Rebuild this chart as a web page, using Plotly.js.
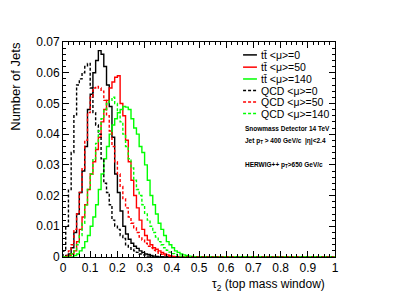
<!DOCTYPE html>
<html><head><meta charset="utf-8">
<script src="https://cdn.plot.ly/plotly-3.0.1.min.js"></script>
<style>html,body{margin:0;padding:0;background:#fff;}#c{width:399px;height:299px;}</style>
</head><body><div id="c"></div>
<script>
// bin width 0.01, bins starting at 0
const binWidth = 0.01;
const nBins = 100;
const ttMu0 = [0,0.0005,0.001,0.003,0.008,0.014,0.021,0.028,0.036,0.048,
  0.053,0.060,0.064,0.0672,0.066,0.062,0.056,0.049,0.039,0.027,
  0.021,0.015,0.010,0.0075,0.0058,0.0045,0.0035,0.0028,0.002,0.0015,
  0.001,0.0008,0.0005,0.0003,0.0002,0,0,0,0,0];
const ttMu50 = [0,0.0002,0.0005,0.001,0.002,0.005,0.009,0.013,0.017,0.022,
  0.027,0.031,0.035,0.039,0.044,0.048,0.051,0.055,0.057,0.0585,
  0.059,0.050,0.046,0.038,0.031,0.025,0.020,0.016,0.012,0.009,
  0.007,0.0055,0.004,0.003,0.0025,0.002,0.0015,0.001,0.0007,0.0004,0.0002];
const ttMu140 = [0,0,0,0,0.0005,0.001,0.002,0.003,0.005,0.007,
  0.010,0.013,0.017,0.022,0.027,0.032,0.036,0.040,0.043,0.045,
  0.047,0.048,0.049,0.0488,0.048,0.045,0.042,0.040,0.036,0.034,
  0.030,0.025,0.020,0.017,0.014,0.011,0.009,0.007,0.005,0.004,
  0.003,0.002,0.0015,0.001,0.0007,0.0005,0.0003,0.0002];
const qcdMu0 = [0.002,0.010,0.022,0.034,0.046,0.056,0.058,0.060,0.062,0.063,
  0.055,0.047,0.043,0.040,0.032,0.024,0.021,0.017,0.012,0.010,
  0.009,0.007,0.006,0.004,0.003,0.0025,0.002,0.0015,0.001,0.0007,
  0.0005,0.0003,0.0002];
const qcdMu50 = [0,0.0005,0.002,0.004,0.009,0.014,0.021,0.029,0.038,0.047,
  0.052,0.055,0.0555,0.055,0.054,0.051,0.046,0.041,0.036,0.031,
  0.027,0.023,0.019,0.016,0.013,0.011,0.0095,0.008,0.0065,0.0055,
  0.0045,0.0035,0.003,0.0022,0.0017,0.0012,0.0009,0.0006,0.0004,0.0002];
const qcdMu140 = [0,0,0.0005,0.001,0.002,0.004,0.007,0.011,0.017,0.022,
  0.027,0.032,0.037,0.041,0.045,0.048,0.050,0.051,0.052,0.050,
  0.047,0.044,0.040,0.036,0.032,0.029,0.025,0.022,0.020,0.017,
  0.014,0.012,0.010,0.008,0.0065,0.005,0.004,0.003,0.0022,0.0016,
  0.0011,0.0008,0.0005,0.0003];
const labels = ["t\u0074\u0304 <\u03bc>=0","t\u0074\u0304 <\u03bc>=50","t\u0074\u0304 <\u03bc>=140",
  "QCD <\u03bc>=0","QCD <\u03bc>=50","QCD <\u03bc>=140"];
const series = [ttMu0, ttMu50, ttMu140, qcdMu0, qcdMu50, qcdMu140];
const colors = ["#000000","#ff0000","#00ff00","#000000","#ff0000","#00ff00"];
const dashes = ["solid","solid","solid","3px,2px","3px,2px","3px,2px"];

function stepTrace(vals, color, dash, name){
  const v = vals.slice();
  while (v.length < nBins) v.push(0);
  const x = [], y = [];
  x.push(0); y.push(0);
  for (let i=0;i<nBins;i++){ x.push(i*binWidth); y.push(v[i]); }
  x.push(nBins*binWidth); y.push(v[nBins-1]);
  return {type:'scatter', mode:'lines', x:x, y:y, name:name,
    line:{shape:'hv', color:color, width:1.4, dash:dash}, hoverinfo:'skip', showlegend:false};
}
const traces = series.map((s,i)=>stepTrace(s, colors[i], dashes[i], labels[i]));

const font = "Liberation Sans, Arial, sans-serif";
const shapes = [], annotations = [];
const legY = [0.940,0.883,0.828,0.774,0.721,0.667];
labels.forEach((lab,i)=>{
  shapes.push({type:'line', xref:'paper', yref:'paper', x0:0.662, x1:0.713, y0:legY[i], y1:legY[i],
    line:{color:colors[i], width:1.5, dash: i<3 ? 'solid' : '3px,2px'}});
  annotations.push({xref:'paper', yref:'paper', x:0.72, y:legY[i], xanchor:'left', yanchor:'middle',
    text:lab, showarrow:false, font:{family:font, size:10.5, color:'#000'}});
});
const info = ["<b>Snowmass Detector 14 TeV</b>",
  "<b>Jet p<sub>T</sub> > 400 GeV/c  |\u03b7|<2.4</b>",
  "<b>HERWIG++ p<sub>T</sub>>650 GeV/c</b>"];
const infoY = [0.6,0.54,0.428];
info.forEach((t,i)=>annotations.push({xref:'paper', yref:'paper', x:0.662, y:infoY[i], xanchor:'left', yanchor:'middle',
  text:t, showarrow:false, font:{family:font, size:6.5, color:'#000'}}));
annotations.push({xref:'paper', yref:'paper', x:-0.175, y:1.01, xanchor:'center', yanchor:'top', textangle:-90,
  text:'Number of Jets', showarrow:false, font:{family:font, size:13, color:'#000'}});
annotations.push({xref:'paper', yref:'paper', x:0.971, y:-0.13, xanchor:'right', yanchor:'middle',
  text:'\u03c4<sub>2</sub> (top mass window)', showarrow:false, font:{family:font, size:12, color:'#000'}});

const layout = {
  width:399, height:299, margin:{l:63, r:64, t:42, b:42},
  paper_bgcolor:'#fff', plot_bgcolor:'#fff', showlegend:false,
  font:{family:font, size:12, color:'#000'},
  xaxis:{range:[0,1], dtick:0.1, tick0:0, ticks:'inside', ticklen:6, tickcolor:'#000', mirror:'allticks',
    showline:true, linecolor:'#000', linewidth:1, showgrid:false, zeroline:false,
    minor:{dtick:0.02, ticks:'inside', ticklen:3, tickcolor:'#000'}, tickfont:{size:12}},
  yaxis:{range:[0,0.07], dtick:0.01, tick0:0, ticks:'inside', ticklen:6, tickcolor:'#000', mirror:'allticks',
    showline:true, linecolor:'#000', linewidth:1, showgrid:false, zeroline:false,
    minor:{dtick:0.002, ticks:'inside', ticklen:3, tickcolor:'#000'}, tickfont:{size:12}},
  shapes:shapes, annotations:annotations
};
Plotly.newPlot('c', traces, layout, {staticPlot:true, displayModeBar:false});
</script></body></html>
